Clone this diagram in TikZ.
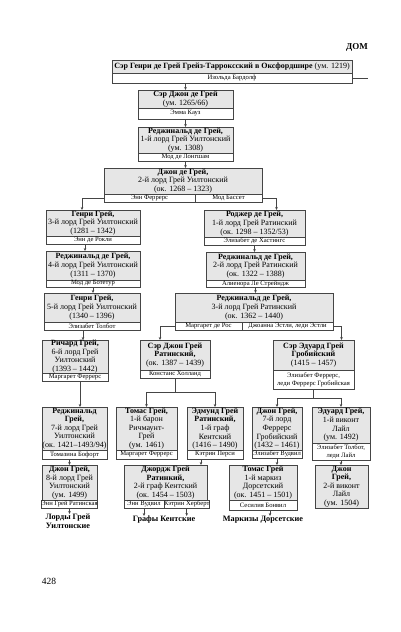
\documentclass[tikz,border=0pt]{standalone}
\usepackage{fontspec}
\setmainfont{Liberation Serif}
\usepackage{xcolor}
\usetikzlibrary{arrows.meta, positioning, calc}
\definecolor{boxgray}{HTML}{E6E6E6}
\definecolor{framegray}{HTML}{454545}
\newcommand\personfont{\fontsize{8}{8.6}\selectfont}
\newcommand\wifefont{\fontsize{6.6}{7.8}\selectfont}

\begin{document}
\begin{tikzpicture}[x=1pt, y=-1pt,
    person/.style={draw=framegray, fill=boxgray, align=center, inner sep=0pt, outer sep=0pt, anchor=north west, font=\personfont},
    wife/.style={draw=framegray, fill=white, align=center, inner sep=0pt, outer sep=0pt, font=\wifefont},
    line/.style={draw=framegray, line width=0.5pt},
    arr/.style={line, -{Stealth[length=3pt, width=2.6pt]}},
    house/.style={font=\fontsize{8.2}{9}\selectfont\bfseries, align=center, inner sep=0pt, anchor=north}]

    \useasboundingbox (0,0) rectangle (401,632);

    % Page head and number
    \node[font=\fontsize{9}{10}\selectfont\bfseries] (head) at (357,47) {ДОМ};
    \node[font=\fontsize{9.5}{10}\selectfont] (pageno) at (49,581) {428};

    % Founder
    \node[person, minimum width=240pt, minimum height=13pt] (henry0) at (112,60) {\textbf{Сэр Генри де Грей Грейз-Тарроксский в Оксфордшире} (ум. 1219)};
    \node[wife, below=0pt of henry0, minimum width=240pt, minimum height=10pt] (henry0w) {Изольда Бардолф};
    \coordinate (offpage) at (368,78);

    \node[person, minimum width=95pt, minimum height=18pt] (john1) at (138,90) {\textbf{Сэр Джон де Грей}\\(ум. 1265/66)};
    \node[wife, below=0pt of john1, minimum width=95pt, minimum height=11pt] (john1w) {Эмма Кауз};

    \node[person, minimum width=95pt, minimum height=26pt] (reg1) at (138,127) {\textbf{Реджинальд де Грей,}\\1-й лорд Грей Уилтонский\\(ум. 1308)};
    \node[wife, below=0pt of reg1, minimum width=95pt, minimum height=8pt] (reg1w) {Мод де Лонгшам};

    \node[person, minimum width=158pt, minimum height=26pt] (john2) at (104,168) {\textbf{Джон де Грей,}\\2-й лорд Грей Уилтонский\\(ок. 1268 -- 1323)};
    \node[wife, anchor=north west, minimum width=91pt, minimum height=8pt] (john2a) at (john2.south west) {Энн Феррерс};
    \node[wife, right=0pt of john2a, minimum width=67pt, minimum height=8pt] (john2b) {Мод Бассет};

    % Wilton line
    \node[person, minimum width=94pt, minimum height=26pt] (henry3) at (46,210) {\textbf{Генри Грей,}\\3-й лорд Грей Уилтонский\\(1281 -- 1342)};
    \node[wife, below=0pt of henry3, minimum width=94pt, minimum height=8pt] (henry3w) {Энн де Рокли};

    \node[person, minimum width=94pt, minimum height=29pt] (reg4) at (46,251) {\textbf{Реджинальд де Грей,}\\4-й лорд Грей Уилтонский\\(1311 -- 1370)};
    \node[wife, below=0pt of reg4, minimum width=94pt, minimum height=7pt] (reg4w) {Мод де Ботетур};

    \node[person, minimum width=96pt, minimum height=29pt] (henry5) at (44,293) {\textbf{Генри Грей,}\\5-й лорд Грей Уилтонский\\(1340 -- 1396)};
    \node[wife, below=0pt of henry5, minimum width=96pt, minimum height=8pt] (henry5w) {Элизабет Толбот};

    \node[person, minimum width=66pt, minimum height=32pt] (richard) at (42,340) {\textbf{Ричард Грей,}\\6-й лорд Грей\\Уилтонский\\(1393 -- 1442)};
    \node[wife, below=0pt of richard, minimum width=66pt, minimum height=8pt] (richardw) {Маргарет Феррерс};

    \node[person, minimum width=65pt, minimum height=43pt] (reg7) at (42,407) {\textbf{Реджинальд}\\\textbf{Грей,}\\7-й лорд Грей\\Уилтонский\\(ок. 1421--1493/94)};
    \node[wife, below=0pt of reg7, minimum width=65pt, minimum height=9pt] (reg7w) {Томазина Бофорт};

    \node[person, minimum width=55pt, minimum height=35pt] (john8) at (42,465) {\textbf{Джон Грей,}\\8-й лорд Грей\\Уилтонский\\(ум. 1499)};
    \node[wife, below=0pt of john8, minimum width=55pt, minimum height=8pt] (john8w) {Энн Грей Ратинская};

    % Ruthin line
    \node[person, minimum width=101pt, minimum height=27pt] (roger) at (204,210) {\textbf{Роджер де Грей,}\\1-й лорд Грей Ратинский\\(ок. 1298 -- 1352/53)};
    \node[wife, below=0pt of roger, minimum width=101pt, minimum height=8pt] (rogerw) {Элизабет де Хастингс};

    \node[person, minimum width=99pt, minimum height=28pt] (reg2) at (206,252) {\textbf{Реджинальд де Грей,}\\2-й лорд Грей Ратинский\\(ок. 1322 -- 1388)};
    \node[wife, below=0pt of reg2, minimum width=99pt, minimum height=7pt] (reg2w) {Алиенора Ле Стрейндж};

    \node[person, minimum width=158pt, minimum height=29pt] (reg3) at (175,293) {\textbf{Реджинальд де Грей,}\\3-й лорд Грей Ратинский\\(ок. 1362 -- 1440)};
    \node[wife, anchor=north west, minimum width=67pt, minimum height=8pt] (reg3a) at (reg3.south west) {Маргарет де Рос};
    \node[wife, right=0pt of reg3a, minimum width=91pt, minimum height=8pt] (reg3b) {Джоанна Эстли, леди Эстли};

    \node[person, minimum width=70pt, minimum height=30pt] (johnR) at (140,340) {\textbf{Сэр Джон Грей}\\\textbf{Ратинский,}\\(ок. 1387 -- 1439)};
    \node[wife, below=0pt of johnR, minimum width=70pt, minimum height=8pt] (johnRw) {Констанс Холланд};

    \node[person, minimum width=61pt, minimum height=43pt] (thomasR) at (116,407) {\textbf{Томас Грей,}\\1-й барон\\Ричмаунт-\\Грей\\(ум. 1461)};
    \node[wife, below=0pt of thomasR, minimum width=61pt, minimum height=9pt] (thomasRw) {Маргарет Феррерс};

    \node[person, minimum width=56pt, minimum height=43pt] (edmund) at (187,407) {\textbf{Эдмунд Грей}\\\textbf{Ратинский,}\\1-й граф\\Кентский\\(1416 -- 1490)};
    \node[wife, below=0pt of edmund, minimum width=56pt, minimum height=9pt] (edmundw) {Кэтрин Перси};

    \node[person, minimum width=83pt, minimum height=35pt] (george) at (124,465) {\textbf{Джордж Грей}\\\textbf{Ратинкий,}\\2-й граф Кентский\\(ок. 1454 -- 1503)};
    \node[wife, anchor=north west, minimum width=40pt, minimum height=8pt] (georgea) at (george.south west) {Энн Вудвил};
    \node[wife, right=0pt of georgea, minimum width=43pt, minimum height=8pt] (georgeb) {Кэтрин Херберт};

    % Groby line
    \node[person, minimum width=81pt, minimum height=30pt] (edwardG) at (273,340) {\textbf{Сэр Эдуард Грей}\\\textbf{Гробийский}\\(1415 -- 1457)};
    \node[wife, below=0pt of edwardG, minimum width=81pt, minimum height=19pt] (edwardGw) {Элизабет Феррерс,\\леди Феррерс Гробийская};

    \node[person, minimum width=50pt, minimum height=43pt] (johnF) at (252,407) {\textbf{Джон Грей,}\\7-й лорд\\Феррерс\\Гробийский\\(1432 -- 1461)};
    \node[wife, below=0pt of johnF, minimum width=50pt, minimum height=8pt] (johnFw) {Элизабет Вудвил};

    \node[person, minimum width=58pt, minimum height=36pt] (edwardL) at (312,407) {\textbf{Эдуард Грей,}\\1-й виконт\\Лайл\\(ум. 1492)};
    \node[wife, below=0pt of edwardL, minimum width=58pt, minimum height=17pt] (edwardLw) {Элизабет Толбот,\\леди Лайл};

    \node[person, minimum width=68pt, minimum height=35pt] (thomasD) at (229,465) {\textbf{Томас Грей}\\1-й маркиз\\Дорсетский\\(ок. 1451 -- 1501)};
    \node[wife, below=0pt of thomasD, minimum width=68pt, minimum height=10pt] (thomasDw) {Сесилия Бонвил};

    \node[person, minimum width=53pt, minimum height=43pt] (johnL) at (315,465) {\textbf{Джон}\\\textbf{Грей,}\\2-й виконт\\Лайл\\(ум. 1504)};

    % Houses
    \node[house] (wilton) at (68,514) {Лорды Грей\\Уилтонские};
    \node[house] (kent) at (164,516) {Графы Кентские};
    \node[house] (dorset) at (263,516) {Маркизы Дорсетские};

    % Connectors
    \draw[line] (henry0w.east) -- (offpage);
    \draw[arr] (henry0w.south -| john1.north) -- (john1.north);
    \draw[arr] (john1w.south) -- (reg1.north);
    \draw[arr] (reg1w.south) -- (reg1w.south |- john2.north);
    \draw[arr] (john2a.west) -| ([xshift=-11pt]henry3.north);
    \draw[arr] (john2b.east) -| ([xshift=22pt]roger.north);
    \draw[arr] ([xshift=-8pt]henry3w.south) -- ([xshift=-8pt]reg4.north);
    \draw[arr] (reg4w.south) -- (reg4w.south |- henry5.north);
    \draw[arr] ([xshift=-9pt]henry5w.south) -- ([xshift=-9pt]henry5w.south |- richard.north);
    \draw[arr] ([xshift=5pt]richardw.south) -- ([xshift=5pt]richardw.south |- reg7.north);
    \draw[arr] (reg7w.south -| john8.north) -- (john8.north);
    \draw[arr] (john8w.south) -- (john8w.south |- wilton.north);
    \draw[arr] (rogerw.south) -- (rogerw.south |- reg2.north);
    \draw[arr] (reg2w.south) -- (reg2w.south |- reg3.north);
    \draw[arr] (reg3a.west) -| ([xshift=-15pt]johnR.north);
    \draw[arr] (reg3b.east) -| ([xshift=28pt]edwardG.north);
    \draw[line] (johnRw.south) -- ++(0,14) coordinate (forkR);
    \draw[arr] (forkR) -| (thomasR.north);
    \draw[arr] (forkR) -| (edmund.north);
    \draw[line] (edwardGw.south) -- ++(0,9) coordinate (forkG);
    \draw[arr] (forkG) -| (johnF.north);
    \draw[arr] (forkG) -| (edwardL.north);
    \draw[arr] ([xshift=-14pt]edmundw.south) -- ([xshift=-14pt]edmundw.south |- george.north);
    \draw[arr] (johnFw.south) -- (johnFw.south |- thomasD.north);
    \draw[arr] (edwardLw.south) -- (edwardLw.south |- johnL.north);
    \draw[arr] (georgea.south) -- (georgea.south |- kent.north);
    \draw[arr] (georgeb.south) -- (georgeb.south |- kent.north);
    \draw[arr] ([xshift=7pt]thomasDw.south) -- ([xshift=7pt]thomasDw.south |- dorset.north);
\end{tikzpicture}
\end{document}
